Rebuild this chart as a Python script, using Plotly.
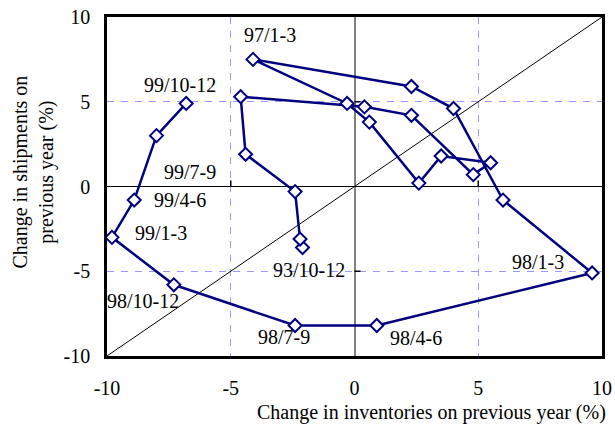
import plotly.graph_objects as go

periods = ["93/10-12", "94/1-3", "94/4-6", "94/7-9", "94/10-12",
           "95/1-3", "95/4-6", "95/7-9", "95/10-12",
           "96/1-3", "96/4-6", "96/7-9", "96/10-12",
           "97/1-3", "97/4-6", "97/7-9", "97/10-12",
           "98/1-3", "98/4-6", "98/7-9", "98/10-12",
           "99/1-3", "99/4-6", "99/7-9", "99/10-12"]
inventories = [-2.1, -2.2, -2.4, -4.4, -4.6,
               0.4, 2.3, 4.8, 5.5,
               3.5, 2.6, 0.6, -0.3,
               -4.1, 2.3, 4.0, 6.0,
               9.6, 0.9, -2.4, -7.3,
               -9.8, -8.9, -8.0, -6.8]
shipments = [-3.6, -3.1, -0.3, 1.9, 5.3,
             4.7, 4.2, 0.7, 1.4,
             1.8, 0.2, 3.8, 4.9,
             7.5, 5.9, 4.6, -0.8,
             -5.1, -8.2, -8.2, -5.8,
             -3.0, -0.8, 3.0, 4.9]
labelled = ["97/1-3", "99/10-12", "99/7-9", "99/4-6", "99/1-3",
            "98/10-12", "98/7-9", "98/4-6", "98/1-3", "93/10-12"]
diag_x = [-10, 10]
diag_y = [-10, 10]
tick_vals = [-10, -5, 0, 5, 10]
tick_text = ["-10", "-5", "0", "5", "10"]
x_title = "Change in inventories on previous year (%)"
y_title = "Change in shipments on<br>previous year (%)"

FONT = "Liberation Serif, Times New Roman, serif"
NAVY = "#000080"

# label offsets in pixels (style only)
offsets = {
    "97/1-3": (17, 24), "99/10-12": (-6, 18), "99/7-9": (33, -36),
    "99/4-6": (46, 0), "99/1-3": (49, 4), "98/10-12": (-31, -16),
    "98/7-9": (-11, -12), "98/4-6": (39, -13), "98/1-3": (-54, 11),
    "93/10-12": (6, -22),
}

fig = go.Figure()
fig.add_trace(go.Scatter(x=diag_x, y=diag_y, mode="lines",
                         line=dict(color="black", width=1),
                         hoverinfo="skip", showlegend=False))
fig.add_trace(go.Scatter(x=inventories, y=shipments, mode="lines+markers",
                         text=periods,
                         line=dict(color=NAVY, width=2.5),
                         marker=dict(symbol="diamond", size=10, color="white",
                                     line=dict(color=NAVY, width=2)),
                         showlegend=False))

annotations = []
for lab in labelled:
    i = periods.index(lab)
    dx, dy = offsets[lab]
    annotations.append(dict(x=inventories[i], y=shipments[i], text=lab,
                            showarrow=False, xshift=dx, yshift=dy,
                            xanchor="center", yanchor="middle",
                            font=dict(family=FONT, size=20, color="black")))
annotations.append(dict(xref="paper", yref="paper", x=1, y=0, text=x_title,
                        showarrow=False, xanchor="right", yanchor="middle",
                        xshift=6, yshift=-56,
                        font=dict(family=FONT, size=20, color="black")))
annotations.append(dict(xref="paper", yref="paper", x=0, y=0.5, text=y_title,
                        showarrow=False, textangle=-90,
                        xanchor="center", yanchor="middle",
                        xshift=-74, yshift=14,
                        font=dict(family=FONT, size=20, color="black")))

shapes = []
for v in [-5, 5]:
    shapes.append(dict(type="line", xref="x", yref="y", x0=v, x1=v,
                       ysizemode="pixel", yanchor=0, y0=0, y1=6,
                       line=dict(color="black", width=1.5)))
    shapes.append(dict(type="line", xref="x", yref="y", y0=v, y1=v,
                       xsizemode="pixel", xanchor=0, x0=0, x1=6,
                       line=dict(color="black", width=1.5)))

axis_common = dict(range=[-10, 10], tickvals=tick_vals, ticktext=tick_text,
                   ticks="", automargin=False, ticklabeloverflow="allow",
                   showgrid=True, gridcolor="#9999ff", gridwidth=1,
                   griddash="7px,7px",
                   showline=True, mirror=True, linecolor="black", linewidth=2.5,
                   tickfont=dict(family=FONT, size=20, color="black"),
                   zeroline=True)

fig.update_layout(
    width=615, height=432,
    margin=dict(l=107, r=13, t=17, b=76),
    paper_bgcolor="white", plot_bgcolor="white",
    xaxis=dict(**axis_common, zerolinecolor="#808080", zerolinewidth=2,
               ticklabelstandoff=12),
    yaxis=dict(**axis_common, zerolinecolor="black", zerolinewidth=1,
               ticklabelstandoff=10),
    annotations=annotations,
    shapes=shapes,
    showlegend=False,
)

fig.write_html(
    "out.html",
    config={"displayModeBar": False},
    post_script=("document.body.style.margin='0';"
                 "document.body.style.overflow='hidden';"
                 "document.documentElement.style.overflow='hidden';"),
)
